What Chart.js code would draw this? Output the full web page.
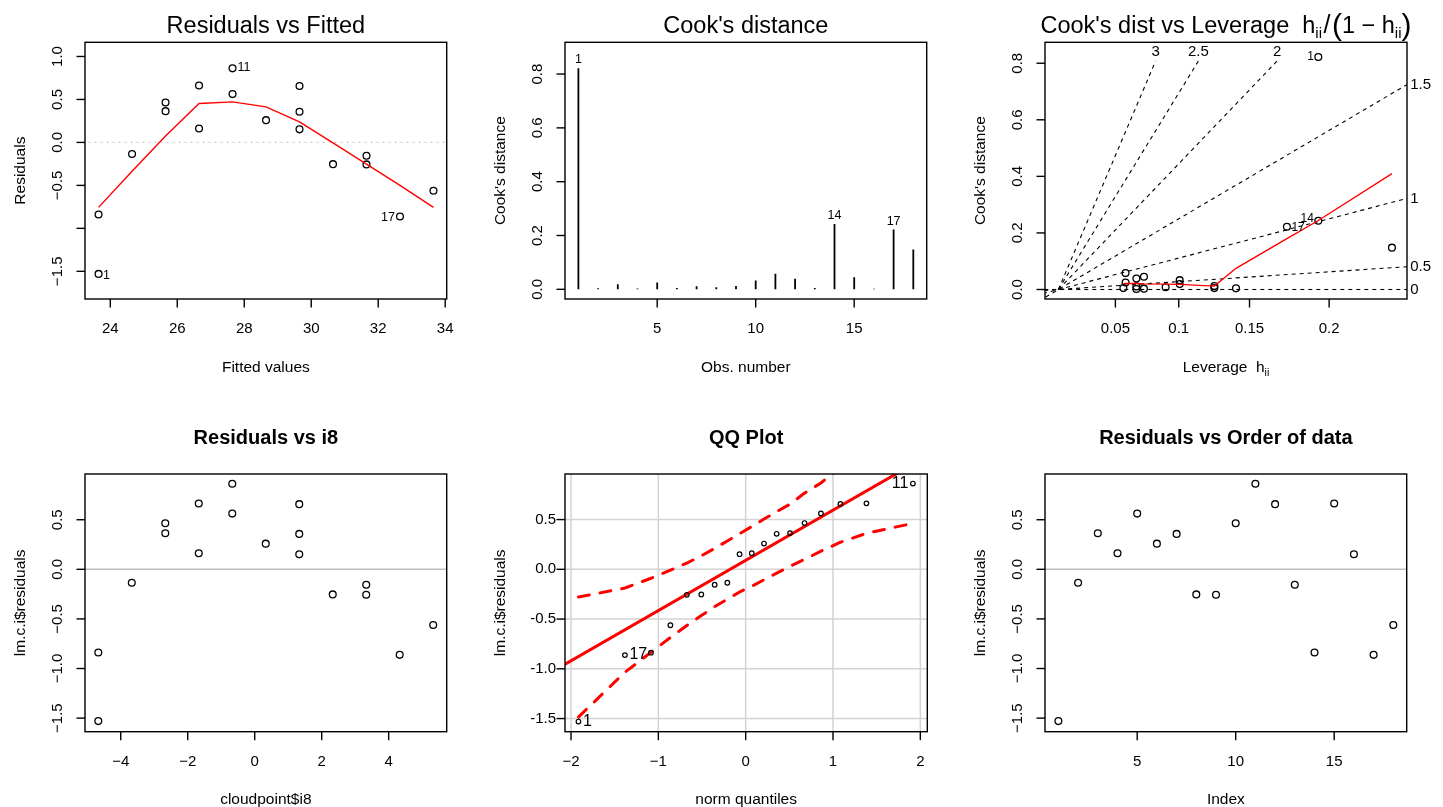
<!DOCTYPE html>
<html><head><meta charset="utf-8">
<script src="https://cdn.jsdelivr.net/npm/chart.js@4.4.1/dist/chart.umd.min.js"></script>
<style>
html,body{margin:0;padding:0;background:#fff;width:1443px;height:807px;overflow:hidden}
canvas{position:absolute;left:0;top:0}
</style></head><body>
<canvas id="p1" width="1443" height="807"></canvas>
<canvas id="p2" width="1443" height="807"></canvas>
<canvas id="p3" width="1443" height="807"></canvas>
<canvas id="p4" width="1443" height="807"></canvas>
<canvas id="p5" width="1443" height="807"></canvas>
<canvas id="p6" width="1443" height="807"></canvas>
<script>
// ---------------- data ----------------
const obsIndex = [1,2,3,4,5,6,7,8,9,10,11,12,13,14,15,16,17,18];
const fittedValues = [23.65,24.65,25.65,26.65,27.65,28.65,29.65,30.65,31.65,25.65,27.65,29.65,31.65,23.65,26.65,29.65,32.65,33.65];
const i8Values = [-4.67,-3.67,-2.67,-1.67,-0.67,0.33,1.33,2.33,3.33,-2.67,-0.67,1.33,3.33,-4.67,-1.67,1.33,4.33,5.33];
const residualValues = [-1.53,-0.135,0.364,0.162,0.562,0.259,0.357,-0.253,-0.256,0.465,0.862,0.657,-0.155,-0.838,0.663,0.152,-0.862,-0.562];
const cooksValues = [0.822,0.004,0.019,0.003,0.025,0.005,0.011,0.008,0.012,0.033,0.058,0.039,0.005,0.243,0.045,0.002,0.222,0.148];
const leverageRatio = [0.240,0.164,0.112,0.079,0.062,0.060,0.072,0.099,0.144,0.112,0.062,0.072,0.144,0.240,0.079,0.072,0.211,0.308];

const smoothFitX = [23.65,24.65,25.65,26.65,27.65,28.65,29.65,30.65,31.65,32.65,33.65];
const smoothFitY = [-0.756,-0.335,0.075,0.453,0.472,0.414,0.240,-0.006,-0.253,-0.499,-0.756];

const cookSmoothX = [0.060,0.062,0.072,0.079,0.099,0.112,0.144,0.164,0.211,0.240,0.308];
const cookSmoothY = [0.021,0.021,0.021,0.020,0.019,0.018,0.012,0.075,0.180,0.244,0.410];

const contourValues = [0,0.5,1,1.5,2,2.5,3];
const contourLabels = ['0','0.5','1','1.5','2','2.5','3'];

const qqTheoretical = [-1.915,-1.383,-1.085,-0.862,-0.674,-0.508,-0.355,-0.210,-0.070,0.070,0.210,0.355,0.508,0.674,0.862,1.085,1.383,1.915];
const qqUpper = [-0.279,-0.188,-0.090,-0.008,0.063,0.135,0.210,0.285,0.358,0.430,0.505,0.579,0.655,0.766,0.868,1.030,1.250,1.650];
const qqLower = [-1.485,-1.035,-0.835,-0.685,-0.565,-0.465,-0.375,-0.300,-0.228,-0.170,-0.105,-0.038,0.030,0.100,0.182,0.272,0.362,0.462];
const qqLineX = [-2.2,2.2];
const qqLineY = [-1.02,1.20];

// tick labels
const fitTicks = [24,26,28,30,32,34];
const fitTickLabels = ['24','26','28','30','32','34'];
const res1Ticks = [-1.5,-1,-0.5,0,0.5,1];
const res1TickLabels = ['\u22121.5','','\u22120.5','0.0','0.5','1.0'];
const cookTicks = [0,0.2,0.4,0.6,0.8];
const cookTickLabels = ['0.0','0.2','0.4','0.6','0.8'];
const obsTicks = [5,10,15];
const obsTickLabels = ['5','10','15'];
const levTicks = [0.05,0.1,0.15,0.2];
const levTickLabels = ['0.05','0.1','0.15','0.2'];
const i8Ticks = [-4,-2,0,2,4];
const i8TickLabels = ['\u22124','\u22122','0','2','4'];
const resTicks = [-1.5,-1,-0.5,0,0.5];
const resTickLabels = ['\u22121.5','\u22121.0','\u22120.5','0.0','0.5'];
const qqXTicks = [-2,-1,0,1,2];
const qqXTickLabels = ['\u22122','\u22121','0','1','2'];
const qqYTickLabels = ['-1.5','-1.0','-0.5','0.0','0.5'];

// ---------------- drawing ----------------
const W = 1443, H = 807;
const FONT = '"Liberation Sans", Arial, Helvetica, sans-serif';
const fnt = (px, bold) => (bold ? 'bold ' : '') + px + 'px ' + FONT;

function rich(ctx, parts, cx, by) {
  let w = 0;
  parts.forEach(p => { ctx.font = p.f; p.w = ctx.measureText(p.t).width + (p.gap || 0); w += p.w; });
  let x = cx - w / 2;
  ctx.textAlign = 'left'; ctx.textBaseline = 'alphabetic';
  parts.forEach(p => { ctx.font = p.f; ctx.fillText(p.t, x + (p.gap || 0) / 2, by + (p.dy || 0)); x += p.w; });
}

function rPlugin(cfg) {
  return {
    id: 'rpanel',
    beforeDatasetsDraw(chart) {
      const ctx = chart.ctx, xs = chart.scales.x, ys = chart.scales.y, a = chart.chartArea;
      if (cfg.grid) {
        ctx.save();
        ctx.strokeStyle = '#d3d3d3'; ctx.lineWidth = 1.5;
        cfg.xTicks.forEach(v => { const p = xs.getPixelForValue(v); ctx.beginPath(); ctx.moveTo(p, a.top); ctx.lineTo(p, a.bottom); ctx.stroke(); });
        cfg.yTicks.forEach(v => { const p = ys.getPixelForValue(v); ctx.beginPath(); ctx.moveTo(a.left, p); ctx.lineTo(a.right, p); ctx.stroke(); });
        ctx.restore();
      }
    },
    afterDatasetsDraw(chart) {
      const ctx = chart.ctx, xs = chart.scales.x, ys = chart.scales.y, a = chart.chartArea;
      ctx.save();
      ctx.strokeStyle = '#000'; ctx.fillStyle = '#000'; ctx.lineWidth = 1.4;
      ctx.strokeRect(a.left, a.top, a.right - a.left, a.bottom - a.top);
      const tl = 8.5;
      // x ticks
      ctx.font = fnt(15); ctx.textAlign = 'center'; ctx.textBaseline = 'alphabetic';
      cfg.xTicks.forEach((v, i) => {
        const p = xs.getPixelForValue(v);
        ctx.beginPath(); ctx.moveTo(p, a.bottom); ctx.lineTo(p, a.bottom + tl); ctx.stroke();
        ctx.fillText(cfg.xLabels[i], p, a.bottom + 34.3);
      });
      // y ticks
      cfg.yTicks.forEach((v, i) => {
        const p = ys.getPixelForValue(v);
        ctx.beginPath(); ctx.moveTo(a.left, p); ctx.lineTo(a.left - tl, p); ctx.stroke();
        const s = cfg.yLabels[i];
        if (!s) return;
        ctx.font = fnt(15);
        if (cfg.yHorizontal) {
          ctx.textAlign = 'right'; ctx.textBaseline = 'middle';
          ctx.fillText(s, a.left - 9, p);
        } else {
          ctx.save(); ctx.translate(a.left - 23.3, p); ctx.rotate(-Math.PI / 2);
          ctx.textAlign = 'center'; ctx.textBaseline = 'alphabetic';
          ctx.fillText(s, 0, 0); ctx.restore();
        }
      });
      const cx = (a.left + a.right) / 2, cy = (a.top + a.bottom) / 2;
      // axis titles
      if (cfg.xTitleParts) rich(ctx, cfg.xTitleParts, cx, a.bottom + 72.7);
      else { ctx.font = fnt(15.5); ctx.textAlign = 'center'; ctx.textBaseline = 'alphabetic'; ctx.fillText(cfg.xTitle, cx, a.bottom + 72.7); }
      ctx.save(); ctx.translate(a.left - 60, cy); ctx.rotate(-Math.PI / 2);
      ctx.font = fnt(15.5); ctx.textAlign = 'center'; ctx.textBaseline = 'alphabetic';
      ctx.fillText(cfg.yTitle, 0, 0); ctx.restore();
      // main title
      if (cfg.titleParts) rich(ctx, cfg.titleParts, cfg.titleX, cfg.titleY);
      else {
        ctx.font = cfg.titleFont; ctx.textAlign = 'center'; ctx.textBaseline = 'alphabetic';
        ctx.fillText(cfg.title, cx, cfg.titleY);
      }
      // point labels
      (cfg.labels || []).forEach(l => {
        ctx.font = fnt(l.size || 12.5);
        ctx.textAlign = l.align || 'left'; ctx.textBaseline = 'middle';
        ctx.fillText(l.t, xs.getPixelForValue(l.x) + (l.dx || 0), ys.getPixelForValue(l.y) + (l.dy || 0));
      });
      if (cfg.extra) cfg.extra(ctx, xs, ys, a);
      ctx.restore();
    }
  };
}

function makeChart(id, box, xr, yr, datasets, cfg) {
  return new Chart(document.getElementById(id), {
    type: 'scatter',
    data: { datasets },
    options: {
      responsive: false, maintainAspectRatio: false, animation: false, events: [], devicePixelRatio: 1,
      layout: { padding: { left: box[0], top: box[1], right: W - box[2], bottom: H - box[3] } },
      scales: {
        x: { type: 'linear', display: false, min: xr[0], max: xr[1] },
        y: { type: 'linear', display: false, min: yr[0], max: yr[1] }
      },
      plugins: { legend: { display: false }, tooltip: { enabled: false }, title: { display: false } }
    },
    plugins: [rPlugin(cfg)]
  });
}

const pts = (xv, yv, r, bw) => ({
  data: xv.map((x, i) => ({ x, y: yv[i] })), showLine: false,
  pointRadius: r, pointBorderWidth: bw, pointBorderColor: '#000',
  pointBackgroundColor: 'rgba(0,0,0,0)', pointStyle: 'circle'
});
const line = (xv, yv, color, w, dash, cap) => ({
  data: xv.map((x, i) => ({ x, y: yv[i] })), showLine: true, pointRadius: 0,
  borderColor: color, borderWidth: w, borderDash: dash || [], borderCapStyle: cap || 'butt',
  fill: false, tension: 0
});

const TOP = 42.3, BOT = 299, TOP2 = 474, BOT2 = 731.7;
const titleTop = fnt(23.5), titleBot = fnt(20, true);

// Panel 1: Residuals vs Fitted
makeChart('p1', [85, TOP, 446.7, BOT], [23.245, 34.045], [-1.822, 1.165], [
  line(smoothFitX, smoothFitY, '#ff0000', 1.4),
  pts(fittedValues, residualValues, 3.4, 1.3),
  line([23.0, 34.3], [0, 0], '#bebebe', 1.1, [1.5, 4.5])
], {
  xTicks: fitTicks, xLabels: fitTickLabels, yTicks: res1Ticks, yLabels: res1TickLabels,
  xTitle: 'Fitted values', yTitle: 'Residuals', title: 'Residuals vs Fitted', titleFont: titleTop, titleY: 33.3,
  labels: [
    { x: fittedValues[0], y: residualValues[0], t: '1', dx: 4.5, dy: 2 },
    { x: fittedValues[10], y: residualValues[10], t: '11', dx: 5, dy: -0.5 },
    { x: fittedValues[16], y: residualValues[16], t: '17', dx: -5, dy: 1.5, align: 'right' }
  ]
});

// Panel 2: Cook's distance
makeChart('p2', [565, TOP, 926.7, BOT], [0.32, 18.68], [-0.036, 0.918],
  obsIndex.map((o, i) => line([o, o], [0, cooksValues[i]], '#000', 1.8)),
{
  xTicks: obsTicks, xLabels: obsTickLabels, yTicks: cookTicks, yLabels: cookTickLabels,
  xTitle: 'Obs. number', yTitle: "Cook's distance", title: "Cook's distance", titleFont: titleTop, titleY: 33.3,
  labels: [
    { x: 1, y: cooksValues[0], t: '1', dy: -8.5, align: 'center' },
    { x: 14, y: cooksValues[13], t: '14', dy: -8.5, align: 'center' },
    { x: 17, y: cooksValues[16], t: '17', dy: -8.5, align: 'center' }
  ]
});

// Panel 3: Cook's dist vs Leverage
const xmax3 = 0.3219, ymax3 = 0.874, ySeg = 0.808;
const contourSets = contourValues.map(b => {
  const s = b * b;
  if (s * xmax3 < ymax3) return line([-0.05, 0.4], [-0.05 * s, 0.4 * s], '#000', 1.1, [4, 4]);
  return line([0, ySeg / s], [0, ySeg], '#000', 1.1, [4, 4]);
});
makeChart('p3', [1045, TOP, 1407, BOT], [-0.01238, xmax3], [-0.0336, ymax3], [
  line(cookSmoothX, cookSmoothY, '#ff0000', 1.4),
  pts(leverageRatio, cooksValues, 3.4, 1.3),
  ...contourSets
], {
  xTicks: levTicks.map(h => h / (1 - h)), xLabels: levTickLabels, yTicks: cookTicks, yLabels: cookTickLabels,
  xTitleParts: [{ t: 'Leverage  h', f: fnt(15.5) }, { t: 'ii', f: fnt(10.5), dy: 4 }],
  yTitle: "Cook's distance",
  titleParts: [
    { t: "Cook's dist vs Leverage  h", f: fnt(23.5) }, { t: 'ii', f: fnt(15), dy: 5 },
    { t: '/', f: fnt(25), gap: 3 }, { t: '(', f: fnt(30), dy: 1.5 }, { t: '1 \u2212 h', f: fnt(23.5) },
    { t: 'ii', f: fnt(15), dy: 5 }, { t: ')', f: fnt(30), dy: 1.5 }
  ], titleX: 1226, titleY: 33.3,
  labels: [
    { x: leverageRatio[0], y: cooksValues[0], t: '1', dx: -4.5, align: 'right', size: 12 },
    { x: leverageRatio[13], y: cooksValues[13], t: '14', dx: -4.5, dy: -2, align: 'right', size: 12 },
    { x: leverageRatio[16], y: cooksValues[16], t: '17', dx: 4.5, dy: 1, size: 12 }
  ],
  extra(ctx, xs, ys, a) {
    ctx.font = fnt(15);
    contourValues.forEach((b, i) => {
      const s = b * b;
      if (s * xmax3 < ymax3) {
        ctx.textAlign = 'left'; ctx.textBaseline = 'middle';
        ctx.fillText(contourLabels[i], xs.getPixelForValue(xmax3 + 0.003), ys.getPixelForValue(s * xmax3));
      } else {
        ctx.textAlign = 'center'; ctx.textBaseline = 'alphabetic';
        ctx.fillText(contourLabels[i], xs.getPixelForValue(ySeg / s), ys.getPixelForValue(0.826));
      }
    });
  }
});

// Panel 4: Residuals vs i8
makeChart('p4', [85, TOP2, 446.7, BOT2], [-5.067, 5.733], [-1.637, 0.961], [
  pts(i8Values, residualValues, 3.4, 1.3),
  line([-6, 7], [0, 0], '#bebebe', 1.6)
], {
  xTicks: i8Ticks, xLabels: i8TickLabels, yTicks: resTicks, yLabels: resTickLabels,
  xTitle: 'cloudpoint$i8', yTitle: 'lm.c.i$residuals', title: 'Residuals vs i8', titleFont: titleBot, titleY: 444
});

// Panel 5: QQ Plot
const qqSample = residualValues.slice().sort((p, q) => p - q);
makeChart('p5', [565, TOP2, 927.3, BOT2], [-2.069, 2.08], [-1.632, 0.958], [
  pts(qqTheoretical, qqSample, 2.3, 1.2),
  line(qqLineX, qqLineY, '#ff0000', 3, [], 'round'),
  line(qqTheoretical, qqUpper, '#ff0000', 3, [11, 11], 'round'),
  line(qqTheoretical, qqLower, '#ff0000', 3, [11, 11], 'round')
], {
  grid: true,
  xTicks: qqXTicks, xLabels: qqXTickLabels, yTicks: resTicks, yLabels: qqYTickLabels, yHorizontal: true,
  xTitle: 'norm quantiles', yTitle: 'lm.c.i$residuals', title: 'QQ Plot', titleFont: titleBot, titleY: 444,
  labels: [
    { x: qqTheoretical[0], y: qqSample[0], t: '1', dx: 4.5, size: 16 },
    { x: qqTheoretical[1], y: qqSample[1], t: '17', dx: 4.5, size: 16 },
    { x: qqTheoretical[17], y: qqSample[17], t: '11', dx: -4.5, align: 'right', size: 16 }
  ]
});

// Panel 6: Residuals vs Order of data
makeChart('p6', [1045, TOP2, 1406.7, BOT2], [0.32, 18.68], [-1.637, 0.961], [
  pts(obsIndex, residualValues, 3.4, 1.3),
  line([0, 20], [0, 0], '#bebebe', 1.6)
], {
  xTicks: obsTicks, xLabels: obsTickLabels, yTicks: resTicks, yLabels: resTickLabels,
  xTitle: 'Index', yTitle: 'lm.c.i$residuals', title: 'Residuals vs Order of data', titleFont: titleBot, titleY: 444
});
</script>
</body></html>
